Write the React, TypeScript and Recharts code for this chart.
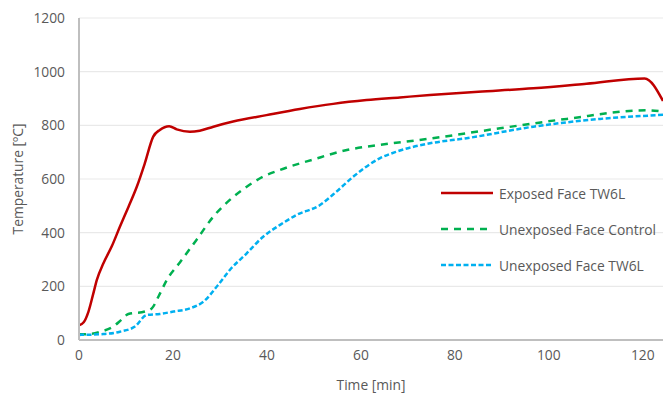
import React from 'react';
import { LineChart, Line, XAxis, YAxis, CartesianGrid } from 'recharts';

const exposedTime = [0, 1, 2, 3, 3.8, 5.2, 7, 8.7, 10.5, 12.3, 14, 15.8, 17.2, 19.2, 20.8, 23.6, 25.7, 28.6, 32.8, 39.9, 47, 54.1, 61.2, 68.3, 74.7, 85, 96.7, 108, 120.4, 124.3];
const exposedTemp = [55, 66, 105, 170, 224, 286, 350, 422, 495, 571, 658, 758, 783, 797, 785, 776, 780, 795, 814, 838, 861, 880, 894, 904, 913, 925, 938, 955, 975, 891];

const controlTime = [0, 2.5, 4.5, 7.3, 9, 10.5, 14, 15.5, 17, 18.7, 21.5, 25, 28.6, 32.1, 35.7, 39.2, 42.8, 49.9, 57, 64, 73.6, 89.6, 103.8, 120.8, 124.3];
const controlTemp = [21, 23, 31, 50, 75, 97, 106, 118, 165, 224, 290, 373, 460, 522, 571, 609, 634, 673, 708, 727, 748, 789, 824, 856, 851];

const tw6lTime = [0, 5.2, 8.7, 11.9, 14.4, 17.2, 20.1, 23.6, 26.5, 29.6, 32.1, 35.7, 39.2, 42.8, 46.3, 51.3, 54.8, 58.4, 64, 67.6, 74.7, 82.5, 96.7, 110.9, 124.3];
const tw6lTemp = [19, 22, 31, 50, 93, 97, 106, 118, 143, 205, 261, 323, 385, 429, 466, 503, 553, 609, 677, 702, 733, 752, 795, 824, 839];

const xTicks = [0, 20, 40, 60, 80, 100, 120];
const yTicks = [0, 200, 400, 600, 800, 1000, 1200];

const seriesNames = ['Exposed Face TW6L', 'Unexposed Face Control', 'Unexposed Face TW6L'];

const build = (ts: number[], vs: number[]) => ts.map((t, i) => ({ t, v: vs[i] }));
const exposedData = build(exposedTime, exposedTemp);
const controlData = build(controlTime, controlTemp);
const tw6lData = build(tw6lTime, tw6lTemp);

const FONT = '"Open Sans", sans-serif';
const TEXT = '#595959';

const legendItems = [
  { name: seriesNames[0], color: '#C00000', dash: undefined as string | undefined },
  { name: seriesNames[1], color: '#00B050', dash: '7 6' },
  { name: seriesNames[2], color: '#00B0F0', dash: '5 2.5' },
];

const LegendBox = () => (
  <div style={{ position: 'absolute', left: 440, top: 175, fontFamily: FONT, fontSize: 13.8, color: TEXT }}>
    {legendItems.map((it) => (
      <div key={it.name} style={{ display: 'flex', alignItems: 'center', height: 36 }}>
        <svg width={59} height={10} style={{ flex: 'none' }}>
          <line x1={1} y1={5} x2={53} y2={5} stroke={it.color} strokeWidth={2.5} strokeDasharray={it.dash} />
        </svg>
        <span style={{ whiteSpace: 'nowrap' }}>{it.name}</span>
      </div>
    ))}
  </div>
);

export default function App() {
  return (
    <div style={{ position: 'absolute', left: 0, top: 0, width: 663, height: 395, background: '#fff' }}>
      <LineChart width={663} height={395} margin={{ top: 18, right: 0, left: 0, bottom: 0 }}>
        <CartesianGrid vertical={false} stroke="#e9e9e9" strokeWidth={1.2} />
        <XAxis
          type="number"
          dataKey="t"
          domain={[0, 124.3]}
          ticks={xTicks}
          allowDataOverflow
          height={55}
          tickSize={0}
          tickMargin={10}
          axisLine={{ stroke: '#bfbfbf', strokeWidth: 2 }}
          tick={{ fill: TEXT, fontSize: 13.8, fontFamily: FONT }}
          label={(props: any) => {
            const vb = props.viewBox;
            return (
              <text x={vb.x + vb.width / 2} y={vb.y + 50} textAnchor="middle" fill={TEXT} fontSize={13.8} fontFamily={FONT}>
                Time [min]
              </text>
            );
          }}
        />
        <YAxis
          type="number"
          domain={[0, 1200]}
          ticks={yTicks}
          width={79}
          tickSize={0}
          tickMargin={14}
          axisLine={{ stroke: '#bfbfbf', strokeWidth: 2 }}
          tick={{ fill: TEXT, fontSize: 13.8, fontFamily: FONT }}
          label={(props: any) => {
            const vb = props.viewBox;
            const cx = 17;
            const cy = vb.y + vb.height / 2;
            return (
              <text x={cx} y={cy} transform={`rotate(-90 ${cx} ${cy})`} textAnchor="middle" dominantBaseline="central" fill={TEXT} fontSize={13.8} fontFamily={FONT}>
                Temperature [ºC]
              </text>
            );
          }}
        />
        <Line data={exposedData} dataKey="v" name={seriesNames[0]} type="monotone" stroke="#C00000" strokeWidth={2.5} dot={false} isAnimationActive={false} />
        <Line data={controlData} dataKey="v" name={seriesNames[1]} type="monotone" stroke="#00B050" strokeWidth={2.5} strokeDasharray="7 6" dot={false} isAnimationActive={false} />
        <Line data={tw6lData} dataKey="v" name={seriesNames[2]} type="monotone" stroke="#00B0F0" strokeWidth={2.5} strokeDasharray="5 2.5" dot={false} isAnimationActive={false} />
      </LineChart>
      <LegendBox />
    </div>
  );
}
